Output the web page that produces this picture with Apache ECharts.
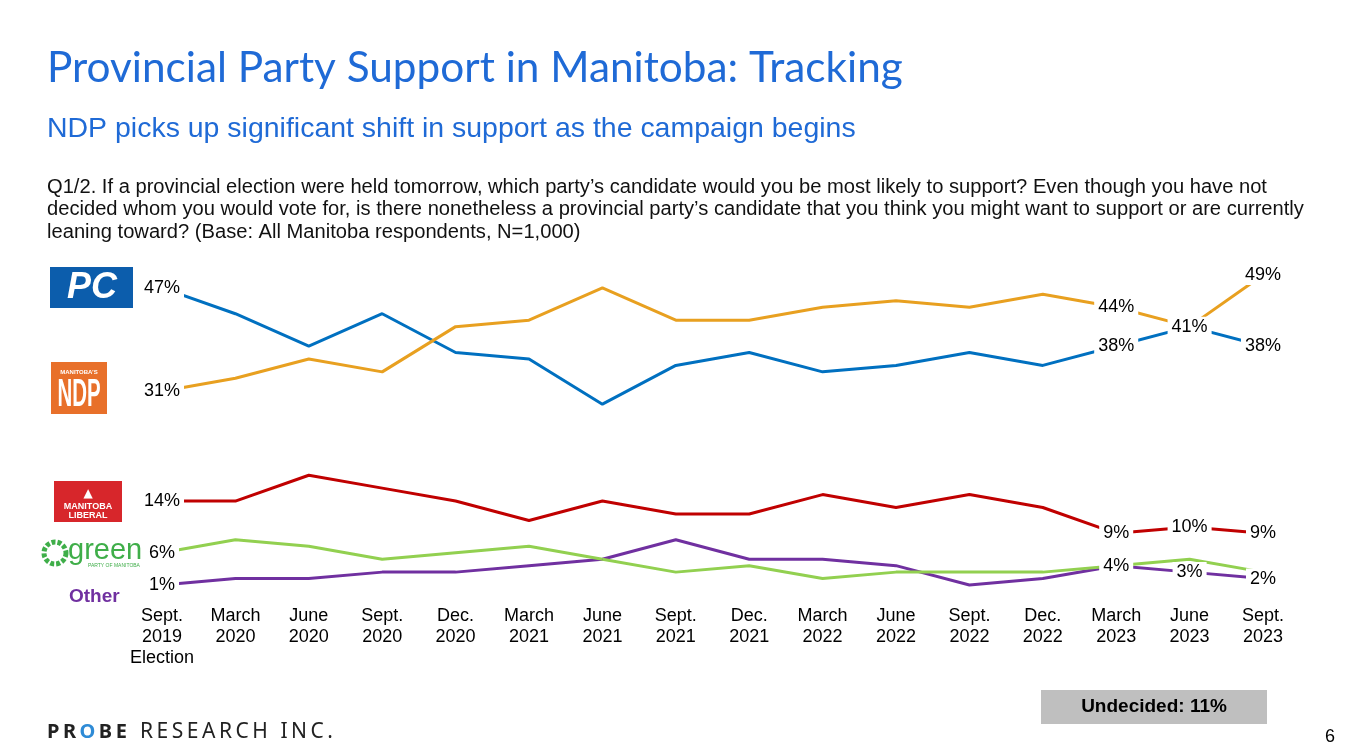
<!DOCTYPE html>
<html>
<head>
<meta charset="utf-8">
<script src="https://cdn.jsdelivr.net/npm/echarts@6/dist/echarts.min.js"></script>
<style>
html,body{margin:0;padding:0;background:#fff;}
#chart{width:1357px;height:755px;}
</style>
</head>
<body>
<div id="chart"></div>
<script>
// ---- data ----
const categories = ['Sept.\n2019\nElection','March\n2020','June\n2020','Sept.\n2020','Dec.\n2020','March\n2021','June\n2021','Sept.\n2021','Dec.\n2021','March\n2022','June\n2022','Sept.\n2022','Dec.\n2022','March\n2023','June\n2023','Sept.\n2023'];
const pc      = [47,43,38,43,37,36,29,35,37,34,35,37,35,38,41,38];
const ndp     = [31,33,36,34,41,42,47,42,42,44,45,44,46,44,41,49];
const liberal = [14,14,18,16,14,11,14,12,12,15,13,15,13,9,10,9];
const green   = [6,8,7,5,6,7,5,3,4,2,3,3,3,4,5,3];
const other   = [1,2,2,3,3,4,5,8,5,5,4,1,2,4,3,2];
// indices that carry a data label
const pcLabeled      = [0,13,15];
const ndpLabeled     = [0,13,14,15];
const liberalLabeled = [0,13,14,15];
const greenLabeled   = [0];
const otherLabeled   = [0,13,14,15];
const titleText = 'Provincial Party Support in Manitoba: Tracking';
const subtitleText = 'NDP picks up significant shift in support as the campaign begins';
const questionLines = [
  'Q1/2. If a provincial election were held tomorrow, which party\u2019s candidate would you be most likely to support? Even though you have not',
  'decided whom you would vote for, is there nonetheless a provincial party\u2019s candidate that you think you might want to support or are currently',
  'leaning toward? (Base: All Manitoba respondents, N=1,000)'
];
const undecidedText = 'Undecided: 11%';

// ---- helpers ----
const cv = document.createElement('canvas').getContext('2d');
function fit(text, font, target){ cv.font = font.replace('{s}','100px'); return 100*target/cv.measureText(text).width; }
function mw(text, font){ cv.font = font; return cv.measureText(text).width; }

const labelStyle = {show:true, position:'inside', formatter:'{c}%', fontFamily:'Liberation Sans, Arial', fontSize:18, color:'#000', backgroundColor:'#fff', padding:[1,4]};
function mk(vals, labeled){
  return vals.map((v,i)=> labeled.includes(i) ? {value:v, label:labelStyle} : {value:v});
}
function line(name, vals, labeled, color){
  return {name, type:'line', data:mk(vals, labeled), symbol:'circle', symbolSize:1, showSymbol:true,
    lineStyle:{width:3, color}, itemStyle:{color}, label:{show:false}, emphasis:{disabled:true}, z:2};
}

const titleSize = fit(titleText, '{s} Lato', 856);
const subSize = fit(subtitleText, '{s} "Liberation Sans"', 809);
const qSize = fit(questionLines[1], '{s} "Liberation Sans"', 1258);

const graphics = [];
graphics.push({type:'text', style:{text:titleText, x:47, y:68, font:`${titleSize}px Lato`, fill:'#1F6AD6', textVerticalAlign:'middle'}});
graphics.push({type:'text', style:{text:subtitleText, x:47, y:129, font:`${subSize}px "Liberation Sans"`, fill:'#1F6AD6', textVerticalAlign:'middle'}});
questionLines.forEach((t,i)=>graphics.push({type:'text', style:{text:t, x:47, y:187+i*22.5, font:`${qSize}px "Liberation Sans"`, fill:'#111', textVerticalAlign:'middle'}}));

// PC logo
graphics.push({type:'rect', shape:{x:50,y:267,width:83,height:41}, style:{fill:'#0C5DAC'}});
graphics.push({type:'text', style:{text:'PC', x:92, y:288, font:'italic bold 36px "Liberation Sans"', fill:'#fff', textAlign:'center', textVerticalAlign:'middle'}});
// NDP logo
graphics.push({type:'rect', shape:{x:51,y:362,width:56,height:52}, style:{fill:'#E8702A'}});
graphics.push({type:'text', style:{text:'MANITOBA\u2019S', x:79, y:372, font:'bold 6px "Liberation Sans"', fill:'#fff', textAlign:'center', textVerticalAlign:'middle'}});
graphics.push({type:'text', scaleX:0.62, scaleY:1.15, originX:79, originY:396, style:{text:'NDP', x:79, y:396, font:'bold 33px "Liberation Sans"', fill:'#fff', textAlign:'center', textVerticalAlign:'middle'}});
// Liberal logo
graphics.push({type:'rect', shape:{x:54,y:481,width:68,height:41}, style:{fill:'#D7262B'}});
graphics.push({type:'text', style:{text:'\u25B2', x:88, y:494, font:'12px "DejaVu Sans"', fill:'#fff', textAlign:'center', textVerticalAlign:'middle'}});
graphics.push({type:'text', style:{text:'MANITOBA', x:88, y:507, font:'bold 9px "Liberation Sans"', fill:'#fff', textAlign:'center', textVerticalAlign:'middle'}});
graphics.push({type:'text', style:{text:'LIBERAL', x:88, y:516, font:'bold 9px "Liberation Sans"', fill:'#fff', textAlign:'center', textVerticalAlign:'middle'}});
// Green logo
graphics.push({type:'circle', shape:{cx:55,cy:553,r:11}, style:{fill:'none', stroke:'#3FAE49', lineWidth:5, lineDash:[4,2]}});
graphics.push({type:'text', style:{text:'green', x:68, y:551, font:'29px "Liberation Sans"', fill:'#3FAE49', textVerticalAlign:'middle'}});
graphics.push({type:'text', style:{text:'PARTY OF MANITOBA', x:88, y:566, font:'5px "Liberation Sans"', fill:'#3FAE49', textVerticalAlign:'middle'}});
// Other
graphics.push({type:'text', style:{text:'Other', x:69, y:597, font:'bold 19px "Liberation Sans"', fill:'#7030A0', textVerticalAlign:'middle'}});

// Footer
(function(){
  let x = 47;
  const fb = 'bold 20px "Noto Sans"', fl = '21px "Noto Sans"';
  'PROBE'.split('').forEach(ch=>{
    graphics.push({type:'text', style:{text:ch, x, y:732, font:fb, fill: ch==='O' ? '#2E8BD6':'#222', textVerticalAlign:'middle'}});
    x += mw(ch, fb) + 3.5;
  });
  const txt = 'RESEARCH INC.';
  let total = 0; txt.split('').forEach(ch=> total += mw(ch, fl));
  const sp = (193 - total) / (txt.length - 1);
  x = 140;
  txt.split('').forEach(ch=>{
    graphics.push({type:'text', style:{text:ch, x, y:732, font:fl, fill:'#222', textVerticalAlign:'middle'}});
    x += mw(ch, fl) + sp;
  });
})();
// Undecided box
graphics.push({type:'rect', shape:{x:1041,y:690,width:226,height:34}, style:{fill:'#BFBFBF'}});
graphics.push({type:'text', style:{text:undecidedText, x:1154, y:707, font:'bold 19px "Liberation Sans"', fill:'#000', textAlign:'center', textVerticalAlign:'middle'}});
graphics.push({type:'text', style:{text:'6', x:1330, y:737, font:'18px "Liberation Sans"', fill:'#000', textAlign:'center', textVerticalAlign:'middle'}});

const chart = echarts.init(document.getElementById('chart'), null, {renderer:'canvas'});
chart.setOption({
  animation:false,
  backgroundColor:'#fff',
  grid:{left:162, right:94, top:268.5, bottom:163.5, containLabel:false},
  xAxis:{type:'category', data:categories, boundaryGap:false,
    axisLine:{show:false}, axisTick:{show:false}, splitLine:{show:false},
    axisLabel:{interval:0, margin:14, fontFamily:'Liberation Sans, Arial', fontSize:18, lineHeight:21, color:'#000'}},
  yAxis:{type:'value', min:0, max:50, show:false, splitLine:{show:false}},
  series:[
    line('Other', other, otherLabeled, '#7030A0'),
    line('Green', green, greenLabeled, '#92D050'),
    line('Liberal', liberal, liberalLabeled, '#C00000'),
    line('PC', pc, pcLabeled, '#0070C0'),
    line('NDP', ndp, ndpLabeled, '#E8A020')
  ],
  graphic:graphics
});
</script>
</body>
</html>
